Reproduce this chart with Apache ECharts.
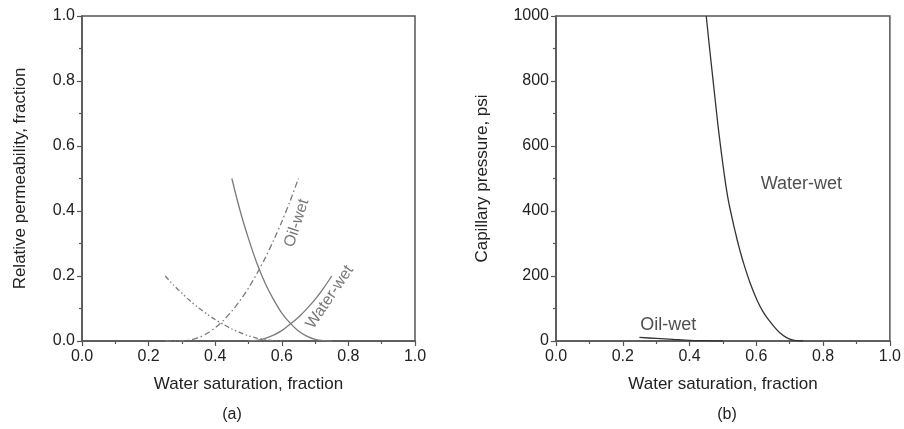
<!DOCTYPE html>
<html>
<head>
<meta charset="utf-8">
<script src="https://cdn.jsdelivr.net/npm/echarts@6/dist/echarts.min.js"></script>
<style>
html,body{margin:0;padding:0;background:#fff;}
#c{width:904px;height:429px;}
</style>
</head>
<body>
<div id="c"></div>
<script>
// ---- Data ----
// (a) relative permeability, water-wet (solid)
const kroWaterWet = [[0.45,0.50],[0.475,0.40],[0.50,0.315],[0.525,0.24],[0.55,0.178],[0.575,0.128],[0.60,0.086],[0.625,0.055],[0.65,0.031],[0.675,0.015],[0.70,0.005],[0.725,0.001],[0.75,0.0]];
const krwWaterWet = [[0.50,0.0],[0.525,0.002],[0.55,0.008],[0.575,0.018],[0.60,0.032],[0.625,0.052],[0.65,0.073],[0.675,0.099],[0.70,0.128],[0.725,0.162],[0.75,0.20]];
// (a) relative permeability, oil-wet (dashed)
const kroOilWet = [[0.25,0.20],[0.275,0.172],[0.30,0.147],[0.325,0.123],[0.35,0.102],[0.375,0.083],[0.40,0.066],[0.425,0.051],[0.45,0.037],[0.475,0.026],[0.50,0.016],[0.525,0.009],[0.55,0.004],[0.575,0.001],[0.60,0.0]];
const krwOilWet = [[0.25,0.0],[0.30,0.0],[0.325,0.003],[0.35,0.010],[0.375,0.023],[0.40,0.041],[0.425,0.064],[0.45,0.092],[0.475,0.125],[0.50,0.163],[0.525,0.207],[0.55,0.255],[0.575,0.309],[0.60,0.367],[0.625,0.431],[0.65,0.50]];
// (b) capillary pressure, psi
const pcWaterWet = [[0.45,1000],[0.458,920],[0.466,844],[0.477,740],[0.488,639],[0.501,535],[0.514,445],[0.526,385],[0.538,331],[0.551,278],[0.565,229],[0.583,174],[0.602,126],[0.619,92],[0.637,65],[0.655,42],[0.672,24],[0.688,12],[0.705,4],[0.72,1],[0.74,0]];
const pcOilWet = [[0.25,11],[0.30,8],[0.35,5],[0.40,2],[0.45,1],[0.50,0]];
// axis ranges / ticks
const xTicks = [0.0,0.2,0.4,0.6,0.8,1.0];
const krTicks = [0.0,0.2,0.4,0.6,0.8,1.0];
const pcTicks = [0,200,400,600,800,1000];
// text
const xTitle = 'Water saturation, fraction';
const krTitle = 'Relative permeability, fraction';
const pcTitle = 'Capillary pressure, psi';
const panelLabels = ['(a)','(b)'];
// annotation anchors in data coordinates
const labelsA = [{text:'Oil-wet', pos:[0.645,0.363], rot:72},{text:'Water-wet', pos:[0.744,0.135], rot:56}];
const labelsB = [{text:'Water-wet', pos:[0.735,483]},{text:'Oil-wet', pos:[0.336,49]}];

const FONT = 'Liberation Sans, Arial, sans-serif';
const AX = '#555';
const TXT = '#222';

function xAxisDef(gi){
  return {
    type:'value', gridIndex:gi, min:xTicks[0], max:xTicks[xTicks.length-1], interval:0.2,
    name:xTitle, nameLocation:'middle', nameGap:35,
    nameTextStyle:{fontFamily:FONT,fontSize:17,color:TXT},
    axisLine:{show:true,onZero:false,lineStyle:{color:AX,width:1.5}},
    axisTick:{show:true,inside:false,length:5,lineStyle:{color:AX,width:1.2}},
    minorTick:{show:true,splitNumber:2,length:3,lineStyle:{color:AX,width:1.2}},
    splitLine:{show:false},
    axisLabel:{fontFamily:FONT,fontSize:16,color:TXT,margin:8,formatter:v=>v.toFixed(1)}
  };
}
function yAxisDef(gi,ticks,interval,name,gap,fmt){
  return {
    type:'value', gridIndex:gi, min:ticks[0], max:ticks[ticks.length-1], interval:interval,
    name:name, nameLocation:'middle', nameGap:gap, nameRotate:90,
    nameTextStyle:{fontFamily:FONT,fontSize:17,color:TXT},
    axisLine:{show:true,onZero:false,lineStyle:{color:AX,width:1.5}},
    axisTick:{show:true,inside:false,length:5,lineStyle:{color:AX,width:1.2}},
    minorTick:{show:true,splitNumber:2,length:3,lineStyle:{color:AX,width:1.2}},
    splitLine:{show:false},
    axisLabel:{fontFamily:FONT,fontSize:16,color:TXT,margin:7,formatter:fmt}
  };
}
function line(xi,yi,data,color,type,width,sm){
  return {type:'line',xAxisIndex:xi,yAxisIndex:yi,data:data,showSymbol:false,symbol:'none',smooth:sm,
    lineStyle:{color:color,width:width,type:type},silent:true,animation:false,z:3};
}
function textSeries(xi,yi,items,color,size){
  return {type:'scatter',xAxisIndex:xi,yAxisIndex:yi,symbolSize:0.01,silent:true,animation:false,
    itemStyle:{color:color},
    data:items.map(l=>({value:l.pos,label:{show:true,position:'inside',formatter:l.text,rotate:l.rot||0,
      fontFamily:FONT,fontSize:size,color:color}}))};
}

const chart = echarts.init(document.getElementById('c'),null,{renderer:'canvas'});
chart.setOption({
  animation:false,
  backgroundColor:'#fff',
  grid:[
    {left:82,top:16,width:333,height:325,show:true,borderColor:AX,borderWidth:1.5,backgroundColor:'transparent'},
    {left:556,top:16,width:336,height:325,show:true,borderColor:AX,borderWidth:1.5,backgroundColor:'transparent'}
  ],
  xAxis:[xAxisDef(0),xAxisDef(1)],
  yAxis:[
    yAxisDef(0,krTicks,0.2,krTitle,53,v=>v.toFixed(1)),
    yAxisDef(1,pcTicks,200,pcTitle,65,v=>String(v))
  ],
  series:[
    line(0,0,kroWaterWet,'#7a7a7a','solid',1.3,0.3),
    line(0,0,krwWaterWet,'#7a7a7a','solid',1.3,0.3),
    line(0,0,kroOilWet,'#7a7a7a',[5,2.5,1.5,2.5,1.5,2.5],1.3,0.3),
    line(0,0,krwOilWet,'#7a7a7a',[6,3,1.5,3],1.3,0.3),
    line(1,1,pcWaterWet,'#333','solid',1.3,0.5),
    line(1,1,pcOilWet,'#333','solid',1.3,0.3),
    textSeries(0,0,labelsA,'#555',16),
    textSeries(1,1,labelsB,'#222',18)
  ],
  graphic:[
    {type:'text',x:232,y:415,style:{text:panelLabels[0],font:'16px '+FONT,fill:'#222',textAlign:'center',textVerticalAlign:'middle'}},
    {type:'text',x:727,y:415,style:{text:panelLabels[1],font:'16px '+FONT,fill:'#222',textAlign:'center',textVerticalAlign:'middle'}}
  ]
});
</script>
</body>
</html>
